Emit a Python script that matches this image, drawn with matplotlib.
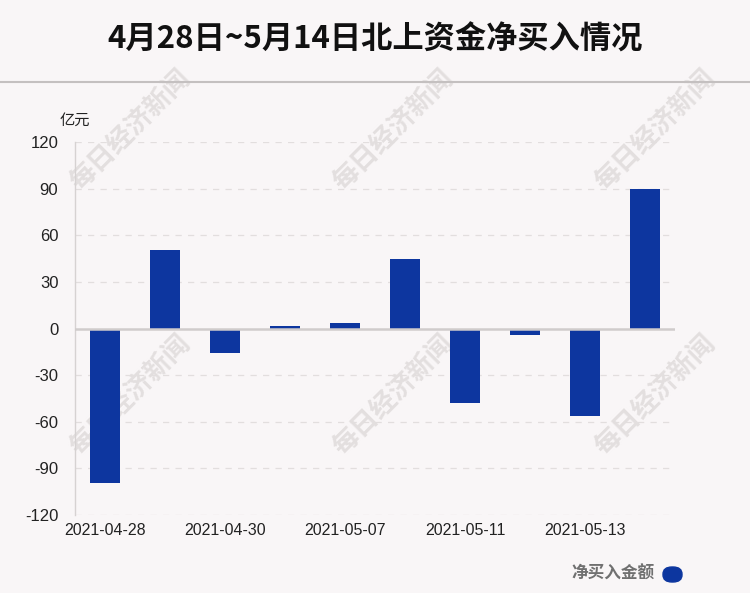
import matplotlib
matplotlib.use("Agg")
import matplotlib.pyplot as plt
from matplotlib.patches import FancyBboxPatch
import numpy as np

plt.rcParams['font.family'] = ['Liberation Sans', 'Noto Sans CJK SC', 'DejaVu Sans']

dates = ['2021-04-28', '2021-04-29', '2021-04-30', '2021-05-06', '2021-05-07',
         '2021-05-10', '2021-05-11', '2021-05-12', '2021-05-13', '2021-05-14']
net_buy = [-99.5, 50.7, -16.0, 1.9, 3.8, 45.0, -47.7, -4.3, -56.3, 89.9]
yticks = [-120, -90, -60, -30, 0, 30, 60, 90, 120]

bg = '#f9f6f7'
bar_color = '#0d369f'

fig = plt.figure(figsize=(7.5, 5.93), dpi=100, facecolor=bg)
ax = fig.add_axes([0.1, 0.1315, 0.8, 0.629])
ax.set_zorder(2)
ax.patch.set_alpha(0)

x = np.arange(len(dates))
ax.bar(x, net_buy, width=0.5, color=bar_color, zorder=3)

ax.set_xlim(-0.5, len(dates) - 0.5)
ax.set_ylim(-120, 120)
ax.set_yticks(yticks)
ax.set_yticklabels([str(v) for v in yticks], fontsize=12, color='#222222')
ax.set_xticks(x[::2])
ax.set_xticklabels(dates[::2], fontsize=11.5, color='#222222')
ax.tick_params(axis='both', length=0, pad=6)
ax.tick_params(axis='y', pad=12)

for v in yticks:
    if v != 0:
        ax.axhline(v, color='#e2dede', lw=0.9, ls=(0, (5, 5)), zorder=1)
ax.axhline(0, color='#d0cccc', lw=1.8, zorder=4)

for s in ['top', 'right', 'bottom']:
    ax.spines[s].set_visible(False)
ax.spines['left'].set_color('#d6d2d2')
ax.spines['left'].set_linewidth(1)

fig.text(0.08, 0.797, '亿元', fontsize=11, family=['Noto Sans CJK SC'], color='#222222',
         va='center')

# title and divider line
fig.text(0.5, 0.934, '4月28日~5月14日北上资金净买入情况', fontsize=22.5, fontweight='heavy',
         family=['Noto Sans CJK SC'], ha='center', va='center', color='#111111')
fig.add_artist(plt.Line2D([0, 1], [0.862, 0.862], color='#c4c0c0', lw=1.5,
                          transform=fig.transFigure))

# watermarks
for cx in [130, 393, 655]:
    for cy in [130, 395]:
        fig.text(cx / 750, 1 - cy / 593, '每日经济新闻', fontsize=19, fontweight='bold',
                 family=['Noto Sans CJK SC'], color='#e3dfdf', rotation=45,
                 ha='center', va='center', zorder=0.5)

# legend
fig.text(655 / 750, 1 - 574 / 593, '净买入金额', fontsize=12, fontweight='bold',
         family=['Noto Sans CJK SC'], color='#707070', ha='right', va='center')
fig.add_artist(FancyBboxPatch((663 / 750, 1 - 582 / 593), 19 / 750, 15 / 593,
                              boxstyle='round,pad=0,rounding_size=0.012',
                              transform=fig.transFigure, color=bar_color))

fig.savefig('out.png', dpi=100, facecolor=bg)
